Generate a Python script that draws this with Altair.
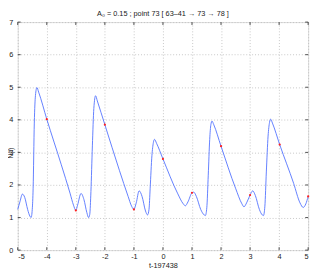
import altair as alt
import pandas as pd

# Curve samples (t offset, N(t))
t_vals = [-5.00, -4.92, -4.84, -4.76, -4.66, -4.58, -4.54, -4.50, -4.47, -4.43, -4.39, -4.34, -4.28,
          -4.00, -3.50, -3.20, -3.08, -3.00, -2.94, -2.82, -2.72, -2.62, -2.56, -2.52, -2.48, -2.43,
          -2.38, -2.32, -2.26, -2.00, -1.50, -1.20, -1.08, -1.00, -0.92, -0.82, -0.72, -0.60, -0.53,
          -0.48, -0.44, -0.38, -0.33, -0.29, -0.22, 0.00, 0.50, 0.70, 0.77, 0.86, 1.00, 1.06, 1.15,
          1.30, 1.42, 1.46, 1.51, 1.56, 1.61, 1.65, 1.69, 1.75, 2.00, 2.50, 2.72, 2.79, 2.88, 3.00,
          3.09, 3.18, 3.32, 3.42, 3.46, 3.51, 3.56, 3.62, 3.67, 3.71, 3.77, 4.02, 4.50, 4.72, 4.83,
          4.92, 5.00]
n_vals = [1.25, 1.50, 1.72, 1.62, 1.25, 1.04, 1.00, 1.25, 1.90, 3.90, 4.75, 4.99, 4.85,
          4.02, 2.62, 1.75, 1.38, 1.22, 1.38, 1.74, 1.55, 1.15, 1.00, 1.10, 1.80, 3.20,
          4.35, 4.74, 4.58, 3.85, 2.45, 1.65, 1.35, 1.25, 1.45, 1.82, 1.65, 1.20, 1.08,
          1.25, 1.90, 2.90, 3.30, 3.40, 3.28, 2.80, 1.75, 1.42, 1.36, 1.48, 1.76, 1.78, 1.65,
          1.25, 1.08, 1.06, 1.30, 2.30, 3.40, 3.85, 3.96, 3.85, 3.19, 1.90, 1.42, 1.33, 1.45, 1.69,
          1.82, 1.68, 1.25, 1.08, 1.06, 1.35, 2.40, 3.50, 3.92, 4.02, 3.90, 3.24, 2.05, 1.45, 1.31,
          1.42, 1.65]

# Red sample markers
dot_t = [-4.00, -3.00, -2.00, -1.00, 0.00, 1.00, 2.00, 3.00, 4.02, 5.00]
dot_n = [4.02, 1.22, 3.85, 1.25, 2.80, 1.76, 3.19, 1.69, 3.24, 1.65]

x_ticks = [-5, -4, -3, -2, -1, 0, 1, 2, 3, 4, 5]
y_ticks = [0, 1, 2, 3, 4, 5, 6, 7]

title_text = "A\u2080 = 0.15 ; point 73 [ 63\u201341 \u2192 73 \u2192 78 ]"
x_title = "t-197438"
y_title = "N(t)"

W, H = 298, 234
FONT = "Liberation Sans"

curve = pd.DataFrame({"t": t_vals, "n": n_vals})
dots = pd.DataFrame({"t": dot_t, "n": dot_n})
xt = pd.DataFrame({"t": x_ticks})
yt = pd.DataFrame({"n": y_ticks})

xscale = alt.Scale(domain=[-5, 5], nice=False, zero=False)
yscale = alt.Scale(domain=[0, 7], nice=False, zero=False)

xaxis = alt.Axis(values=x_ticks, title=x_title, grid=True, gridDash=[1, 2], gridColor="#b8b8b8",
                 gridWidth=0.8, domain=False, ticks=False, labelPadding=3, labelFontSize=7.5,
                 labelFont=FONT, labelColor="#222", titleFont=FONT, titleFontSize=7.5,
                 titleFontWeight="normal", titleColor="#222", titlePadding=1,
                 labelOverlap=False, labelExpr="'' + datum.value")
yaxis = alt.Axis(values=y_ticks, title=y_title, grid=True, gridDash=[1, 2], gridColor="#b8b8b8",
                 gridWidth=0.8, domain=False, ticks=False, labelPadding=5, labelFontSize=7.5,
                 labelFont=FONT, labelColor="#222", titleFont=FONT, titleFontSize=6.5,
                 titleFontWeight="normal", titleColor="#222", titleX=-10, titleY=134,
                 titleAngle=270, titleAlign="center", titleBaseline="top", labelOverlap=False)

line = alt.Chart(curve).mark_line(color="#5070ff", strokeWidth=0.9, interpolate="monotone").encode(
    x=alt.X("t:Q", scale=xscale, axis=xaxis),
    y=alt.Y("n:Q", scale=yscale, axis=yaxis),
)

pts = alt.Chart(dots).mark_point(filled=True, color="#ff2020", size=5, opacity=1).encode(
    x=alt.X("t:Q", scale=xscale, axis=xaxis), y=alt.Y("n:Q", scale=yscale, axis=yaxis)
)

tick_style = dict(color="#222", strokeWidth=0.8)
bottom_ticks = alt.Chart(xt).mark_rule(**tick_style).encode(
    x=alt.X("t:Q", scale=xscale, axis=xaxis), y=alt.value(H), y2=alt.value(H - 3))
top_ticks = alt.Chart(xt).mark_rule(**tick_style).encode(
    x=alt.X("t:Q", scale=xscale, axis=xaxis), y=alt.value(0), y2=alt.value(3))
left_ticks = alt.Chart(yt).mark_rule(**tick_style).encode(
    y=alt.Y("n:Q", scale=yscale, axis=yaxis), x=alt.value(0), x2=alt.value(3))
right_ticks = alt.Chart(yt).mark_rule(**tick_style).encode(
    y=alt.Y("n:Q", scale=yscale, axis=yaxis), x=alt.value(W), x2=alt.value(W - 3))

chart = alt.layer(line, bottom_ticks, top_ticks, left_ticks, right_ticks, pts).properties(
    width=W, height=H,
    title=alt.TitleParams(text=title_text, fontSize=7.5, font=FONT, fontWeight="normal",
                          color="#222", offset=1, anchor="middle"),
    autosize=alt.AutoSizeParams(type="none"),
    padding={"left": 10, "top": 11, "right": 6, "bottom": 20},
).configure_view(stroke="#222", strokeWidth=1).configure_axis(labelOverlap=False).configure(
    background="white")

chart.save("out.html", embed_options={"renderer": "svg", "actions": False})
